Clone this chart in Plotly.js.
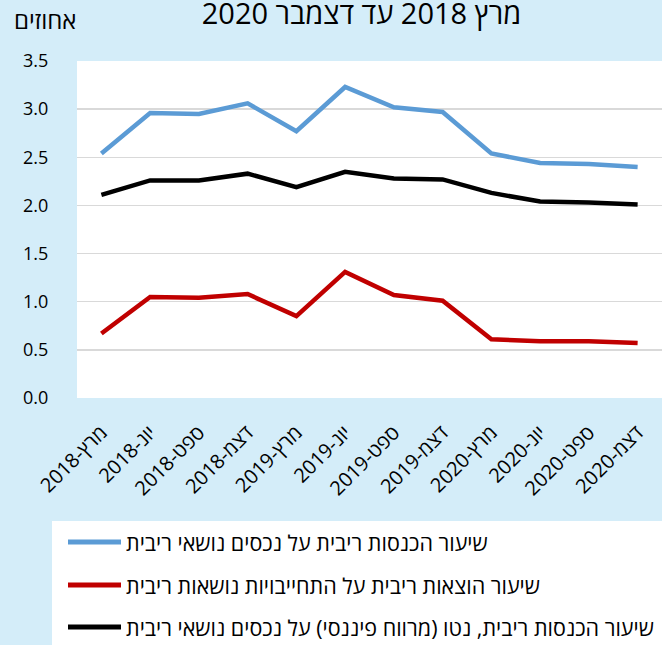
<!DOCTYPE html>
<html>
<head>
<meta charset="utf-8">
<script src="https://cdn.plot.ly/plotly-3.0.1.min.js"></script>
<style>html,body{margin:0;padding:0;background:#D4EDF9;}</style>
</head>
<body>
<div id="chart" style="width:662px;height:645px;"></div>
<script>
const categories = ["מרץ-2018","יונ-2018","ספט-2018","דצמ-2018","מרץ-2019","יונ-2019","ספט-2019","דצמ-2019","מרץ-2020","יונ-2020","ספט-2020","דצמ-2020"];
const interestIncome = [2.54,2.96,2.95,3.06,2.77,3.23,3.02,2.97,2.54,2.44,2.43,2.40];
const interestExpense = [0.67,1.05,1.04,1.08,0.85,1.31,1.07,1.01,0.61,0.59,0.59,0.57];
const netInterest = [2.11,2.26,2.26,2.33,2.19,2.35,2.28,2.27,2.13,2.04,2.03,2.01];
const seriesNames = [
  "שיעור הכנסות ריבית על נכסים נושאי ריבית",
  "שיעור הוצאות ריבית על התחייבויות נושאות ריבית",
  "שיעור הכנסות ריבית, נטו (מרווח פיננסי) על נכסים נושאי ריבית"
];
const seriesColors = ["#5B9BD5", "#C00000", "#000000"];
const yTicks = [0,0.5,1,1.5,2,2.5,3,3.5];
const yTickText = ["0.0","0.5","1.0","1.5","2.0","2.5","3.0","3.5"];

const FONT = "Liberation Sans Narrow, Open Sans, Arial, sans-serif";
const seriesValues = [interestIncome, interestExpense, netInterest];

const traces = seriesValues.map((vals, i) => ({
  x: categories, y: vals, name: seriesNames[i], mode: "lines",
  line: {color: seriesColors[i], width: 4.5}, showlegend: false
}));

// plot area in px: left 77, right 662, top 61, bottom 398
const PL = 77, PR = 662, PT = 61, PB = 398;
const px2x = px => (px - PL) / (PR - PL);
const px2y = py => (PB - py) / (PB - PT);

const shapes = [
  {type: "rect", xref: "paper", yref: "paper", x0: px2x(52), x1: px2x(680), y0: px2y(521), y1: px2y(660),
   fillcolor: "#FFFFFF", line: {width: 0}, layer: "above"}
];
const annotations = [
  {text: "אחוזים", xref: "paper", yref: "paper", x: px2x(12), y: px2y(20), xanchor: "left", yanchor: "middle", showarrow: false, font: {size: 24}}
];
const legendY = [542, 585, 627];
seriesNames.forEach((nm, i) => {
  shapes.push({type: "line", xref: "paper", yref: "paper", x0: px2x(68), x1: px2x(121), y0: px2y(legendY[i]), y1: px2y(legendY[i]),
    line: {color: seriesColors[i], width: 5}, layer: "above"});
  annotations.push({text: nm, xref: "paper", yref: "paper", x: px2x(124), y: px2y(legendY[i]), xanchor: "left", yanchor: "middle",
    showarrow: false, font: {size: 21.5}});
});

const layout = {
  width: 662, height: 645,
  paper_bgcolor: "#D4EDF9",
  plot_bgcolor: "#FFFFFF",
  margin: {l: PL, r: 0, t: PT, b: 645 - PB},
  font: {family: FONT, color: "#000000", size: 18},
  title: {text: "מרץ 2018 עד דצמבר 2020", x: 0.546, xanchor: "center", y: 1 - 14/645, yanchor: "middle", yref: "container", font: {size: 29, family: FONT}},
  xaxis: {type: "category", range: [-0.5, categories.length - 0.5], tickangle: -45, showgrid: false, zeroline: false, showline: false, ticks: "outside", ticklen: 14, tickcolor: "rgba(0,0,0,0)", tickfont: {size: 20}},
  yaxis: {range: [0, 3.5], tickvals: yTicks, ticktext: yTickText, showgrid: true, gridcolor: "#D9D9D9", gridwidth: 1.5, zeroline: false, showline: false, ticks: "outside", ticklen: 24, tickcolor: "rgba(0,0,0,0)", tickfont: {size: 18}},
  showlegend: false,
  shapes: shapes,
  annotations: annotations
};

Plotly.newPlot("chart", traces, layout, {displayModeBar: false, staticPlot: true});
</script>
</body>
</html>
